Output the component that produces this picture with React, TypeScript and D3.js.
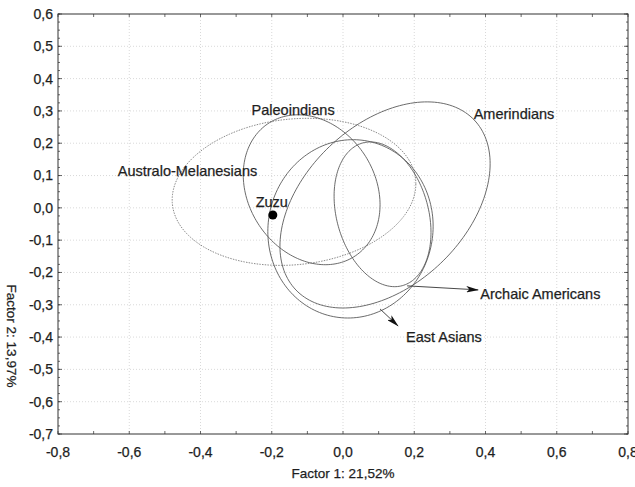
import * as d3 from "d3";
import { useEffect, useRef } from "react";

// group ellipses: mean, half-width / half-height, correlation
const groups = ["Australo-Melanesians", "Paleoindians", "Amerindians", "East Asians", "Archaic Americans"];
const meanX = [-0.1375, -0.088, 0.118, 0.021, 0.111];
const meanY = [0.0495, 0.056, 0.009, -0.065, -0.02];
const spreadX = [0.342, 0.192, 0.295, 0.232, 0.136];
const spreadY = [0.2276, 0.232, 0.319, 0.276, 0.224];
const corr = [0.11, -0.2, 0.4, 0.03, -0.25];
const dotted = [true, false, false, false, false];

const zuzu = { x: -0.197, y: -0.022, label: "Zuzu" };

// label positions (text centre)
const labelNames = ["Australo-Melanesians", "Paleoindians", "Amerindians", "Zuzu", "Archaic Americans", "East Asians"];
const labelX = [-0.4365, -0.14, 0.48, -0.2, 0.554, 0.2835];
const labelY = [0.115, 0.303, 0.291, 0.019, -0.266, -0.399];

// pointer arrows [x1, y1, x2, y2]
const arrows = [
    [0.18, -0.2415, 0.379, -0.2539],
    [0.104, -0.313, 0.154, -0.365],
];

const xTicks = [-0.8, -0.6, -0.4, -0.2, 0, 0.2, 0.4, 0.6, 0.8];
const yTicks = [0.6, 0.5, 0.4, 0.3, 0.2, 0.1, 0, -0.1, -0.2, -0.3, -0.4, -0.5, -0.6, -0.7];

const fmt = (v) => {
    const s = d3.format(".1f")(Math.abs(v) < 1e-9 ? 0 : v);
    return s.replace(".", ",").replace("−", "-");
};

const W = 635, H = 487;
const margin = { left: 58, right: 7, top: 14, bottom: 53 };
const FONT = "Liberation Sans, Arial, sans-serif";

export default function App() {
    const ref = useRef(null);

    useEffect(() => {
        const svg = d3.select(ref.current);
        svg.selectAll("*").remove();

        const x = d3.scaleLinear().domain([-0.8, 0.8]).range([margin.left, W - margin.right]);
        const y = d3.scaleLinear().domain([-0.7, 0.6]).range([H - margin.bottom, margin.top]);
        const [x0, x1] = x.range();
        const [yBot, yTop] = y.range();

        svg.append("rect").attr("width", W).attr("height", H).attr("fill", "#fff");

        const defs = svg.append("defs");
        defs.append("marker")
            .attr("id", "head")
            .attr("viewBox", "0 0 12 6")
            .attr("refX", 11).attr("refY", 3)
            .attr("markerUnits", "userSpaceOnUse")
            .attr("markerWidth", 13).attr("markerHeight", 6.5)
            .attr("orient", "auto")
            .append("path")
            .attr("d", "M0,0 L12,3 L0,6 L3,3 Z")
            .attr("fill", "#111");

        // grid
        const grid = svg.append("g").attr("stroke", "#cfcfcf").attr("stroke-width", 0.8).attr("stroke-dasharray", "1,2");
        xTicks.slice(1, -1).forEach(t => {
            grid.append("line").attr("x1", x(t)).attr("x2", x(t)).attr("y1", yTop).attr("y2", yBot);
        });
        yTicks.slice(1, -1).forEach(t => {
            grid.append("line").attr("x1", x0).attr("x2", x1).attr("y1", y(t)).attr("y2", y(t));
        });

        // ticks
        const tk = svg.append("g").attr("stroke", "#444").attr("stroke-width", 0.8);
        d3.range(-0.8, 0.8001, 0.1).forEach(t => {
            tk.append("line").attr("x1", x(t)).attr("x2", x(t)).attr("y1", yBot).attr("y2", yBot - 3);
            tk.append("line").attr("x1", x(t)).attr("x2", x(t)).attr("y1", yTop).attr("y2", yTop + 3);
        });
        d3.range(-0.7, 0.6001, 0.025).forEach(t => {
            tk.append("line").attr("x1", x0).attr("x2", x0 + 2).attr("y1", y(t)).attr("y2", y(t));
            tk.append("line").attr("x1", x1).attr("x2", x1 - 2).attr("y1", y(t)).attr("y2", y(t));
        });
        yTicks.forEach(t => {
            tk.append("line").attr("x1", x0).attr("x2", x0 + 4).attr("y1", y(t)).attr("y2", y(t));
            tk.append("line").attr("x1", x1).attr("x2", x1 - 4).attr("y1", y(t)).attr("y2", y(t));
        });

        // frame
        svg.append("rect")
            .attr("x", x0).attr("y", yTop)
            .attr("width", x1 - x0).attr("height", yBot - yTop)
            .attr("fill", "none").attr("stroke", "#333").attr("stroke-width", 1);

        // ellipses
        const line = d3.line().x(d => x(d[0])).y(d => y(d[1])).curve(d3.curveLinearClosed);
        groups.forEach((g, i) => {
            const phi = Math.acos(corr[i]);
            const pts = d3.range(0, 2 * Math.PI, Math.PI / 90).map(t => [
                meanX[i] + spreadX[i] * Math.cos(t),
                meanY[i] + spreadY[i] * Math.cos(t - phi),
            ]);
            svg.append("path")
                .attr("d", line(pts))
                .attr("fill", "none")
                .attr("stroke", dotted[i] ? "#8a8a8a" : "#5a5a5a")
                .attr("stroke-width", dotted[i] ? 1 : 0.9)
                .attr("stroke-dasharray", dotted[i] ? "1.5,1.2" : null);
        });

        // arrows
        arrows.forEach(a => {
            svg.append("line")
                .attr("x1", x(a[0])).attr("y1", y(a[1]))
                .attr("x2", x(a[2])).attr("y2", y(a[3]))
                .attr("stroke", "#333").attr("stroke-width", 0.9)
                .attr("marker-end", "url(#head)");
        });

        // point
        svg.append("circle")
            .attr("cx", x(zuzu.x)).attr("cy", y(zuzu.y)).attr("r", 4.5)
            .attr("fill", "#000");

        // labels
        labelNames.forEach((n, i) => {
            svg.append("text")
                .attr("x", x(labelX[i])).attr("y", y(labelY[i]))
                .attr("dy", "0.35em")
                .attr("text-anchor", "middle")
                .attr("font-family", FONT)
                .attr("font-size", 14.5)
                .attr("fill", "#1e1e1e")
                .attr("stroke", "#1e1e1e").attr("stroke-width", 0.25)
                .text(n);
        });

        // tick labels
        const tl = svg.append("g")
            .attr("font-family", FONT)
            .attr("font-size", 14)
            .attr("fill", "#1e1e1e")
            .attr("stroke", "#1e1e1e").attr("stroke-width", 0.25);
        xTicks.forEach(t => {
            tl.append("text").attr("x", x(t)).attr("y", 452)
                .attr("dy", "0.35em").attr("text-anchor", "middle").text(fmt(t));
        });
        yTicks.forEach(t => {
            tl.append("text").attr("x", x0 - 5).attr("y", y(t))
                .attr("dy", "0.35em").attr("text-anchor", "end").text(fmt(t));
        });

        // axis titles
        tl.append("text").attr("x", x(0)).attr("y", 473)
            .attr("dy", "0.35em").attr("text-anchor", "middle")
            .attr("font-size", 13.5).text("Factor 1: 21,52%");
        tl.append("text")
            .attr("transform", `translate(12, 336) rotate(90)`)
            .attr("dy", "0.35em").attr("text-anchor", "middle")
            .attr("font-size", 13.5).text("Factor 2: 13,97%");
    }, []);

    return (
        <svg ref={ref} width={W} height={H} style={{ position: "absolute", left: 0, top: 0 }} />
    );
}
